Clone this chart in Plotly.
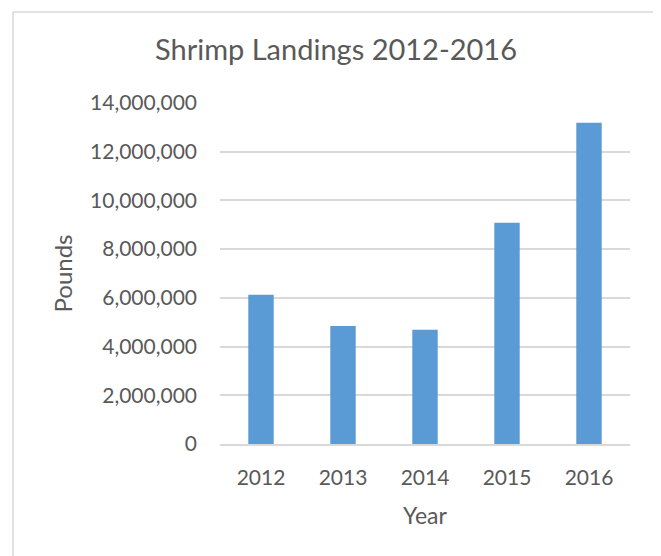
import plotly.graph_objects as go

years = ["2012", "2013", "2014", "2015", "2016"]
pounds = [6130000, 4840000, 4690000, 9080000, 13190000]
y_ticks = [0, 2000000, 4000000, 6000000, 8000000, 10000000, 12000000, 14000000]
y_tick_labels = ["0", "2,000,000", "4,000,000", "6,000,000", "8,000,000",
                 "10,000,000", "12,000,000", "14,000,000"]

# page body has an 8px default margin; compensate
OFF = 8
W, H = 661 - OFF, 556 - OFF
L, T = 220 - OFF, 103 - OFF
R = W - (630 - OFF)
B = H - (444 - OFF)
pw = W - L - R
ph = H - T - B

def px_x(x):
    return (x - OFF - L) / pw

def px_y(y):
    return (H - B - (y - OFF)) / ph

font = "Lato"
gray = "#595959"

fig = go.Figure(go.Bar(
    x=years, y=pounds,
    marker=dict(color="#5B9BD5", line=dict(width=0)),
    width=0.31,
))

fig.update_layout(
    width=W, height=H,
    margin=dict(l=L, r=R, t=T, b=B),
    paper_bgcolor="white", plot_bgcolor="white",
    font=dict(family=font, color=gray, size=21),
    title=dict(text="Shrimp Landings 2012-2016", x=(336 - OFF) / W,
               xanchor="center", y=1 - (50 - OFF) / H, yanchor="middle",
               font=dict(size=29, color=gray, family=font)),
    showlegend=False,
    shapes=[dict(type="rect", xref="paper", yref="paper",
                 x0=px_x(13), x1=px_x(656), y0=px_y(600), y1=px_y(12),
                 line=dict(color="#D9D9D9", width=1.5), fillcolor="rgba(0,0,0,0)",
                 layer="below")],
)

fig.update_xaxes(
    showgrid=False, showline=True, linecolor="#D9D9D9", linewidth=1.5,
    ticks="", ticklabelstandoff=14,
    tickfont=dict(size=21, color=gray, family=font),
    title=dict(text="Year", font=dict(size=23, color=gray, family=font), standoff=20),
)
fig.update_yaxes(
    range=[0, 14000000], tickvals=y_ticks, ticktext=y_tick_labels,
    showgrid=True, gridcolor="#D9D9D9", gridwidth=1.5, zeroline=False,
    ticks="", ticklabelstandoff=22,
    tickfont=dict(size=21, color=gray, family=font),
    title=dict(text="Pounds", font=dict(size=24, color=gray, family=font), standoff=10),
)

fig.write_html("out.html")
